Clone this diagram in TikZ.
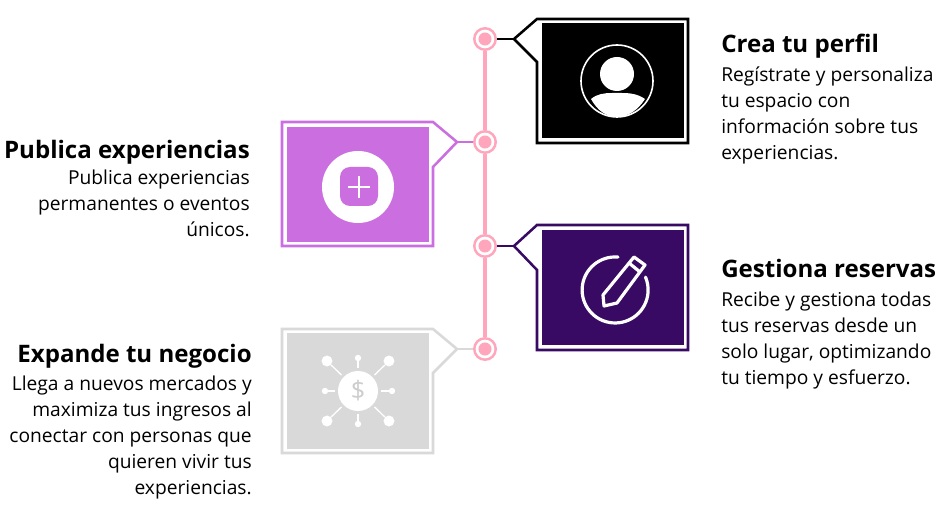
\documentclass[tikz,border=0pt]{standalone}
\usepackage{fontspec}
\setmainfont{Open Sans}
\usetikzlibrary{
  calc,
  positioning
}
\definecolor{linepink}{RGB}{255,166,188}
\definecolor{boxblack}{RGB}{0,0,0}
\definecolor{boxorchid}{RGB}{203,110,224}
\definecolor{boxplum}{RGB}{56,10,99}
\definecolor{boxgray}{RGB}{217,217,217}
\definecolor{iconline}{RGB}{205,205,205}

\begin{document}
\begin{tikzpicture}[
  x=0.75pt, y=-0.75pt,
  dotnode/.style={circle, fill=linepink, inner sep=0pt, minimum size=18pt, path picture={\fill[white] (path picture bounding box.center) circle (7pt); \fill[linepink] (path picture bounding box.center) circle (4.9pt);}},
  spine/.style={draw=linepink, line width=2.4pt},
  frame/.style={line width=1.9pt, fill=white, line join=miter},
  stem/.style={line width=1.9pt},
  titlenode/.style={inner sep=0pt, font=\fontsize{18.05}{22}\selectfont\bfseries},
  leftbody/.style={inner sep=0pt, align=right, font=\fontsize{14.4}{19.5}\selectfont},
  rightbody/.style={inner sep=0pt, align=left, font=\fontsize{14.4}{19.5}\selectfont},
  satnode/.style={circle, fill=white, inner sep=0pt, minimum size=8.2pt},
  smallsat/.style={circle, fill=white, inner sep=0pt, minimum size=4.8pt},
  satline/.style={draw=white, line width=1pt}
]
  \useasboundingbox (0,0) rectangle (940,527);
  \fill[white] (0,0) rectangle (940,527);

  % timeline
  \node[dotnode] (dota) at (485,39) {};
  \node[dotnode] (dotb) at (485,142) {};
  \node[dotnode] (dotc) at (485,246) {};
  \node[dotnode] (dotd) at (485,349) {};
  \draw[spine] (dota) -- (dotb);
  \draw[spine] (dotb) -- (dotc);
  \draw[spine] (dotc) -- (dotd);

  % crea tu perfil
  \coordinate (tipa) at (514,39);
  \draw[stem, boxblack] (dota) -- (tipa);
  \draw[frame, draw=boxblack] (tipa) -- (537,19) -- (688,19) -- (688,143) -- (537,143) -- (537,62) -- cycle;
  \fill[boxblack] (542,23) rectangle (684,138);
  \draw[white, line width=1.2pt] (617,81) circle (36);
  \fill[white] (617,74) circle (17);
  \fill[white] (591,99) .. controls (597,94) and (604,93) .. (612,93) -- (622,93) .. controls (630,93) and (638,94) .. (645,99) .. controls (638,110) and (628,117) .. (617,117) .. controls (606,117) and (597,110) .. (591,99) -- cycle;

  % publica experiencias
  \coordinate (tipb) at (457,142);
  \draw[stem, boxorchid] (dotb) -- (tipb);
  \draw[frame, draw=boxorchid] (tipb) -- (433,122) -- (282,122) -- (282,246) -- (433,246) -- (433,167) -- cycle;
  \fill[boxorchid] (287,127) rectangle (429,242);
  \fill[white] (358,187) circle (36);
  \fill[boxorchid, rounded corners=7.5pt] (340,167) rectangle (378,206);
  \draw[white, line width=2pt] (348,187) -- (370,187);
  \draw[white, line width=2pt] (359,176) -- (359,198);

  % gestiona reservas
  \coordinate (tipc) at (514,246);
  \draw[stem, boxplum] (dotc) -- (tipc);
  \draw[frame, draw=boxplum] (tipc) -- (537,225) -- (688,225) -- (688,350) -- (537,350) -- (537,270) -- cycle;
  \fill[boxplum] (542,230) rectangle (684,345);
  \draw[white, line width=2.4pt, line cap=round] (618,257.1) arc (-85:-383:33);
  \draw[white, line width=2.4pt, line join=round] (634,257) -- (645,265) -- (617,303) -- (604,306) -- (603,295) -- cycle;
  \draw[white, line width=2.4pt] (629,263) -- (640,272);

  % expande tu negocio
  \coordinate (tipd) at (457,349);
  \draw[stem, boxgray] (dotd) -- (tipd);
  \draw[frame, draw=boxgray] (tipd) -- (433,329) -- (282,329) -- (282,453) -- (433,453) -- (433,373) -- cycle;
  \fill[boxgray] (287,333) rectangle (429,449);
  \node[circle, fill=white, inner sep=0pt, minimum size=30pt, text=iconline, font=\fontsize{19}{19}\selectfont] (hub) at (358,391) {\$};
  \node[satnode] (sata) at (327,361) {};
  \node[satnode] (satb) at (389,361) {};
  \node[satnode] (satc) at (327,421) {};
  \node[satnode] (satd) at (389,421) {};
  \node[smallsat] (sate) at (358,358) {};
  \node[smallsat] (satf) at (358,424) {};
  \node[smallsat] (satg) at (325,391) {};
  \node[smallsat] (sath) at (392,391) {};
  \foreach \sat in {sata,satb,satc,satd,sate,satf,satg,sath}
    \draw[satline, shorten >=2pt] (\sat) -- (hub);

  % texts
  \node[titlenode, anchor=base west] (titlea) at (721,53) {Crea tu perfil};
  \node[rightbody, anchor=north west] (texta) at (721,66.5) {Regístrate y personaliza\\tu espacio con\\información sobre tus\\experiencias.};
  \node[titlenode, anchor=base east] (titleb) at (250,158.5) {Publica experiencias};
  \node[leftbody, anchor=north east] (textb) at (250,169.5) {Publica experiencias\\permanentes o eventos\\únicos.};
  \node[titlenode, anchor=base east] (titled) at (252,363) {Expande tu negocio};
  \node[leftbody, anchor=north east] (textd) at (252,375.5) {Llega a nuevos mercados y\\maximiza tus ingresos al\\conectar con personas que\\quieren vivir tus\\experiencias.};
  \node[titlenode, anchor=base west] (titlec) at (721,278) {Gestiona reservas};
  \node[rightbody, anchor=north west] (textc) at (721,291.5) {Recibe y gestiona todas\\tus reservas desde un\\solo lugar, optimizando\\tu tiempo y esfuerzo.};
\end{tikzpicture}
\end{document}
